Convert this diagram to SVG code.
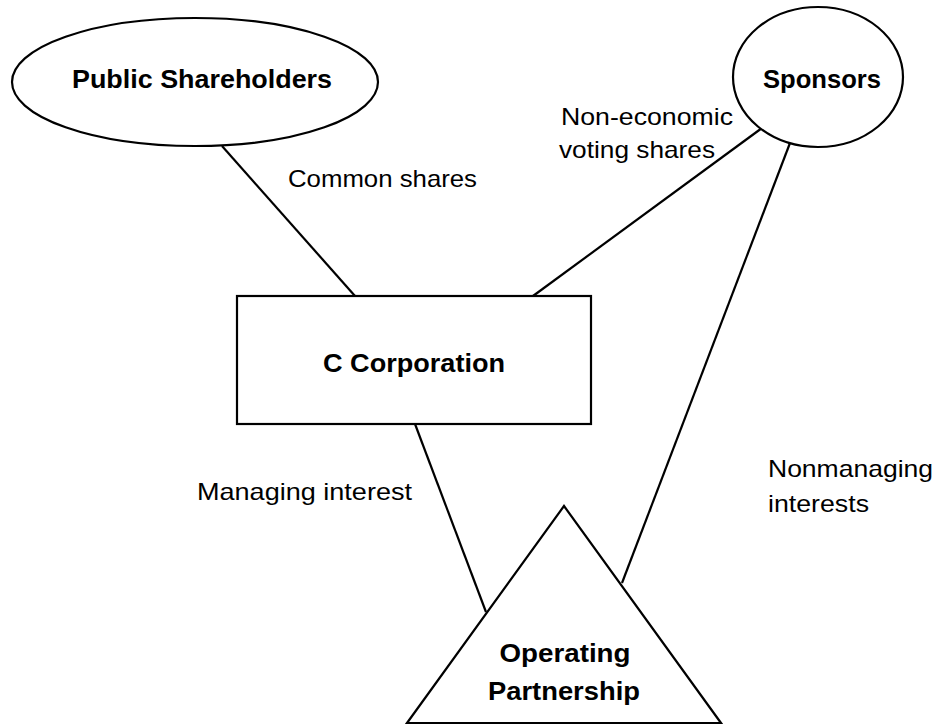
<svg xmlns="http://www.w3.org/2000/svg" width="937" height="726" viewBox="0 0 937 726">
<style>
.shape{fill:#fff;stroke:#000;stroke-width:2.2}
.conn{stroke:#000;stroke-width:2.2;fill:none}
.node{font-family:"Liberation Sans",Arial,sans-serif;font-weight:bold;font-size:26px;fill:#000;text-anchor:middle}
.lbl{font-family:"Liberation Sans",Arial,sans-serif;font-size:24px;fill:#000}
</style>
<rect width="937" height="726" fill="#fff"/>
<g id="connectors">
<line class="conn" x1="222" y1="146" x2="355" y2="296"/>
<line class="conn" x1="762" y1="128" x2="533" y2="296"/>
<line class="conn" x1="790" y1="143" x2="622" y2="583"/>
<line class="conn" x1="415" y1="424" x2="486" y2="612"/>
</g>
<g id="public-shareholders">
<ellipse class="shape" cx="195" cy="82" rx="183" ry="64"/>
<text class="node" x="202" y="88" textLength="260" lengthAdjust="spacingAndGlyphs">Public Shareholders</text>
</g>
<g id="sponsors">
<ellipse class="shape" cx="818" cy="77" rx="85" ry="70"/>
<text class="node" x="822" y="88" textLength="118" lengthAdjust="spacingAndGlyphs">Sponsors</text>
</g>
<g id="c-corporation">
<rect class="shape" x="237" y="296" width="354" height="128"/>
<text class="node" x="414" y="372" textLength="182" lengthAdjust="spacingAndGlyphs">C Corporation</text>
</g>
<g id="operating-partnership">
<polygon class="shape" points="564,506 407,723 721,723"/>
<text class="node" x="565" y="662" textLength="131" lengthAdjust="spacingAndGlyphs">Operating</text>
<text class="node" x="564" y="700" textLength="152" lengthAdjust="spacingAndGlyphs">Partnership</text>
</g>
<g id="labels">
<text class="lbl" x="288" y="187" textLength="189" lengthAdjust="spacingAndGlyphs">Common shares</text>
<text class="lbl" x="561" y="125" textLength="172" lengthAdjust="spacingAndGlyphs">Non-economic</text>
<text class="lbl" x="559" y="158" textLength="156" lengthAdjust="spacingAndGlyphs">voting shares</text>
<text class="lbl" x="197" y="500" textLength="215" lengthAdjust="spacingAndGlyphs">Managing interest</text>
<text class="lbl" x="768" y="477" textLength="165" lengthAdjust="spacingAndGlyphs">Nonmanaging</text>
<text class="lbl" x="768" y="512" textLength="101" lengthAdjust="spacingAndGlyphs">interests</text>
</g>
</svg>
